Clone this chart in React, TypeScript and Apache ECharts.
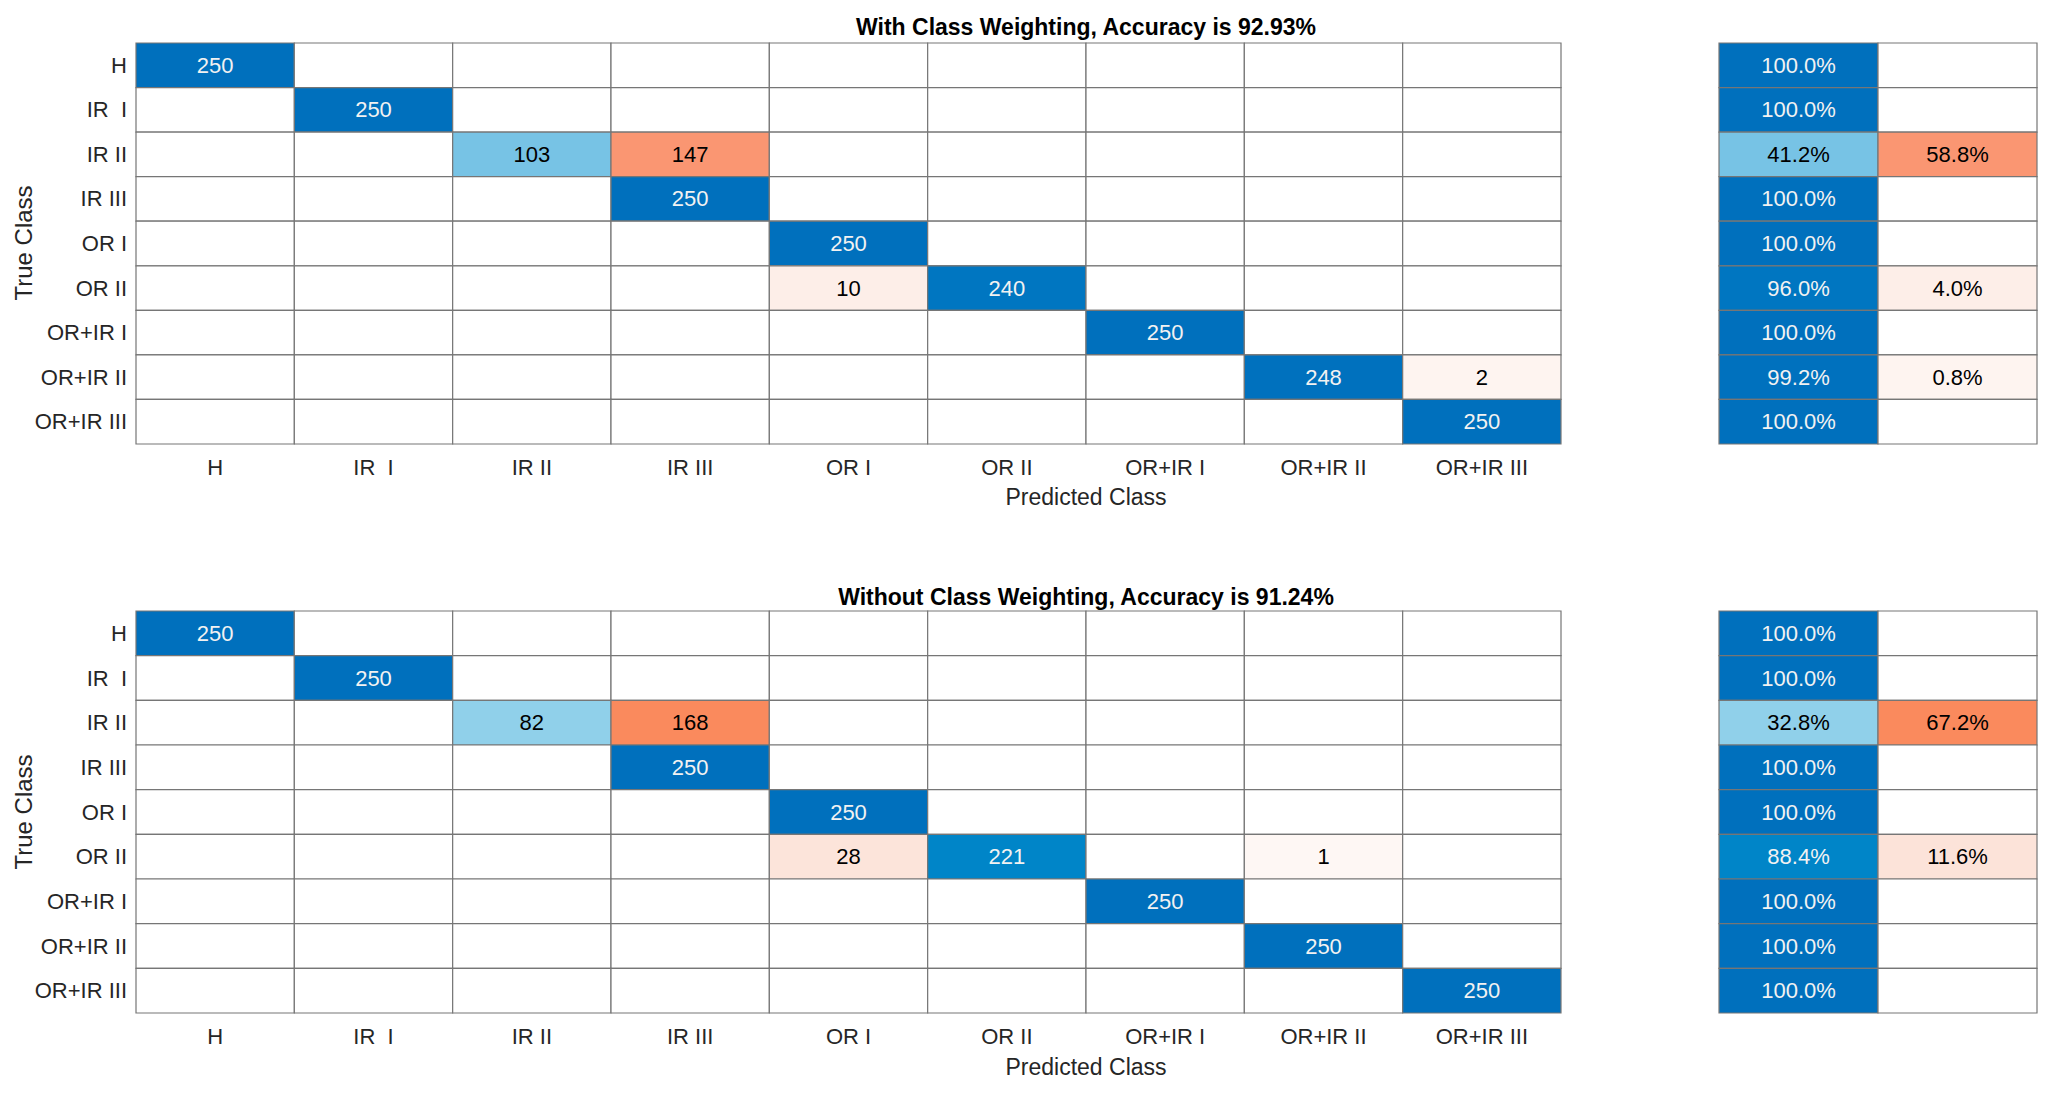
import React, { useEffect, useRef } from "react";
import * as echarts from "echarts";

const classes = ["H", "IR  I", "IR II", "IR III", "OR I", "OR II", "OR+IR I", "OR+IR II", "OR+IR III"];

const titleWeighted = "With Class Weighting, Accuracy is 92.93%";
const titleUnweighted = "Without Class Weighting, Accuracy is 91.24%";
const xAxisTitle = "Predicted Class";
const yAxisTitle = "True Class";

// rows = true class, columns = predicted class
const weightedCounts: number[][] = [
  [250, 0, 0, 0, 0, 0, 0, 0, 0],
  [0, 250, 0, 0, 0, 0, 0, 0, 0],
  [0, 0, 103, 147, 0, 0, 0, 0, 0],
  [0, 0, 0, 250, 0, 0, 0, 0, 0],
  [0, 0, 0, 0, 250, 0, 0, 0, 0],
  [0, 0, 0, 0, 10, 240, 0, 0, 0],
  [0, 0, 0, 0, 0, 0, 250, 0, 0],
  [0, 0, 0, 0, 0, 0, 0, 248, 2],
  [0, 0, 0, 0, 0, 0, 0, 0, 250],
];

const unweightedCounts: number[][] = [
  [250, 0, 0, 0, 0, 0, 0, 0, 0],
  [0, 250, 0, 0, 0, 0, 0, 0, 0],
  [0, 0, 82, 168, 0, 0, 0, 0, 0],
  [0, 0, 0, 250, 0, 0, 0, 0, 0],
  [0, 0, 0, 0, 250, 0, 0, 0, 0],
  [0, 0, 0, 0, 28, 221, 0, 1, 0],
  [0, 0, 0, 0, 0, 0, 250, 0, 0],
  [0, 0, 0, 0, 0, 0, 0, 250, 0],
  [0, 0, 0, 0, 0, 0, 0, 0, 250],
];

// colour ramps (styling)
const blueStops: [number, string][] = [
  [0, "#ffffff"],
  [0.33, "#8fd0ea"],
  [0.412, "#77c3e5"],
  [0.884, "#0085c8"],
  [0.96, "#0076c1"],
  [1, "#0070bd"],
];
const orangeStops: [number, string][] = [
  [0, "#ffffff"],
  [0.004, "#fef7f4"],
  [0.008, "#fef4f0"],
  [0.04, "#fdeee8"],
  [0.112, "#fce4da"],
  [0.588, "#fa9672"],
  [0.672, "#fa8a5d"],
  [1, "#e85a2a"],
];

function hexToRgb(h: string) {
  const n = parseInt(h.slice(1), 16);
  return [(n >> 16) & 255, (n >> 8) & 255, n & 255];
}
function ramp(stops: [number, string][], t: number) {
  for (let i = 1; i < stops.length; i++) {
    if (t <= stops[i][0]) {
      const [t0, c0] = stops[i - 1];
      const [t1, c1] = stops[i];
      const f = (t - t0) / (t1 - t0 || 1);
      const a = hexToRgb(c0);
      const b = hexToRgb(c1);
      const m = a.map((v, k) => Math.round(v + (b[k] - v) * f));
      return `rgb(${m[0]},${m[1]},${m[2]})`;
    }
  }
  return stops[stops.length - 1][1];
}

const FONT = "Liberation Sans";
const BORDER = "#767676";
const TICK_SIZE = 22;
const CELL_SIZE = 22;

type Cell = { x: number; y: number; v: number; fill: string; text: string; textColor: string };

function makeCell(x: number, y: number, v: number, t: number, diag: boolean, text: string): Cell {
  const fill = v === 0 ? "#ffffff" : diag ? ramp(blueStops, t) : ramp(orangeStops, t);
  const light = !(diag && t > 0.5);
  return { x, y, v, fill, text: v === 0 ? "" : text, textColor: light ? "#000000" : "#f2f2f2" };
}

function matrixCells(m: number[][]) {
  const out: Cell[] = [];
  m.forEach((row, r) => {
    const sum = row.reduce((a, b) => a + b, 0);
    row.forEach((v, c) => {
      out.push(makeCell(c, r, v, v / sum, r === c, String(v)));
    });
  });
  return out;
}

function summaryCells(m: number[][]) {
  const out: Cell[] = [];
  m.forEach((row, r) => {
    const sum = row.reduce((a, b) => a + b, 0);
    const pc = row[r] / sum;
    const pw = 1 - pc;
    out.push(makeCell(0, r, row[r] === 0 ? 0 : pc, pc, true, (pc * 100).toFixed(1) + "%"));
    out.push(makeCell(1, r, pw < 1e-9 ? 0 : pw, pw, false, (pw * 100).toFixed(1) + "%"));
  });
  return out;
}

export default function App() {
  const ref = useRef<HTMLDivElement>(null);
  useEffect(() => {
    if (!ref.current) return;
    const chart = echarts.init(ref.current, undefined, { renderer: "svg" });

    const grids = [
      { left: 136, top: 43, width: 1425, height: 401 },
      { left: 1719, top: 43, width: 318, height: 401 },
      { left: 136, top: 611, width: 1425, height: 402 },
      { left: 1719, top: 611, width: 318, height: 402 },
    ].map((g) => ({ ...g, containLabel: false, outerBoundsMode: "none" }));

    const mainX = (gi: number) => ({
      type: "category",
      gridIndex: gi,
      data: classes,
      position: "bottom",
      axisLine: { show: false },
      axisTick: { show: false },
      splitLine: { show: false },
      axisLabel: { fontFamily: FONT, fontSize: TICK_SIZE, color: "#262626", margin: 12, interval: 0 },
    });
    const sideX = (gi: number) => ({
      type: "category",
      gridIndex: gi,
      data: ["correct", "incorrect"],
      show: false,
    });
    const mainY = (gi: number) => ({
      type: "category",
      gridIndex: gi,
      data: classes,
      inverse: true,
      axisLine: { show: false },
      axisTick: { show: false },
      splitLine: { show: false },
      axisLabel: { fontFamily: FONT, fontSize: TICK_SIZE, color: "#262626", margin: 9, interval: 0 },
    });
    const sideY = (gi: number) => ({
      type: "category",
      gridIndex: gi,
      data: classes,
      inverse: true,
      show: false,
    });

    const panels = [
      { cells: matrixCells(weightedCounts), gi: 0 },
      { cells: summaryCells(weightedCounts), gi: 1 },
      { cells: matrixCells(unweightedCounts), gi: 2 },
      { cells: summaryCells(unweightedCounts), gi: 3 },
    ];

    const series = panels.map((p) => ({
      type: "custom",
      xAxisIndex: p.gi,
      yAxisIndex: p.gi,
      data: p.cells.map((c) => [c.x, c.y, c.v]),
      silent: true,
      renderItem: (params: any, api: any) => {
        const cell = p.cells[params.dataIndex];
        const pt = api.coord([api.value(0), api.value(1)]);
        const sz = api.size([1, 1]);
        const children: any[] = [
          {
            type: "rect",
            shape: { x: pt[0] - sz[0] / 2, y: pt[1] - sz[1] / 2, width: sz[0], height: sz[1] },
            style: { fill: cell.fill, stroke: BORDER, lineWidth: 1.2 },
          },
        ];
        if (cell.text) {
          children.push({
            type: "text",
            x: pt[0],
            y: pt[1],
            style: {
              text: cell.text,
              fill: cell.textColor,
              fontFamily: FONT,
              fontSize: CELL_SIZE,
              align: "center",
              verticalAlign: "middle",
            },
          });
        }
        return { type: "group", children };
      },
    }));

    const label = (text: string, x: number, y: number, size: number, bold: boolean, rotation = 0) => ({
      type: "text",
      x,
      y,
      rotation,
      style: {
        text,
        align: "center",
        verticalAlign: "middle",
        fontFamily: FONT,
        fontSize: size,
        fontWeight: bold ? "bold" : "normal",
        fill: bold ? "#000000" : "#262626",
      },
    });

    chart.setOption({
      animation: false,
      backgroundColor: "#ffffff",
      grid: grids,
      xAxis: [mainX(0), sideX(1), mainX(2), sideX(3)],
      yAxis: [mainY(0), sideY(1), mainY(2), sideY(3)],
      series,
      graphic: [
        label(titleWeighted, 1086, 27, 23, true),
        label(titleUnweighted, 1086, 597, 23, true),
        label(xAxisTitle, 1086, 497, 23, false),
        label(xAxisTitle, 1086, 1067, 23, false),
        label(yAxisTitle, 23, 243, 24, false, Math.PI / 2),
        label(yAxisTitle, 23, 812, 24, false, Math.PI / 2),
      ],
    });
    return () => chart.dispose();
  }, []);

  return (
    <div
      ref={ref}
      style={{ position: "absolute", left: 0, top: 0, width: "2052px", height: "1102px", background: "#fff" }}
    />
  );
}
